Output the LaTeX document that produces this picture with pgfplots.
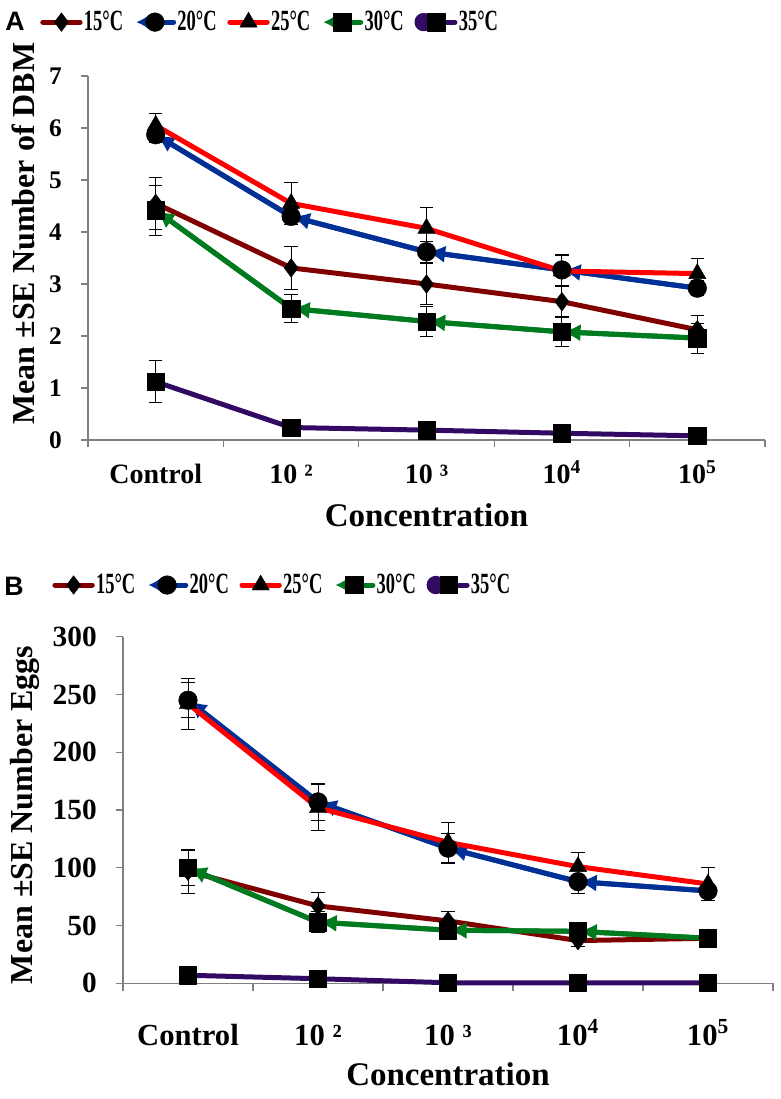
\documentclass[border=0pt]{standalone}
\usepackage{fontspec}
\setmainfont{Liberation Serif}
\newfontfamily\sansb{Liberation Sans}
\newfontfamily\legfont[FakeStretch=0.63]{Liberation Serif}
\newcommand\legtxt[1]{{\legfont\bfseries\fontsize{22}{22}\selectfont #1}}
\usepackage{pgfplots}
\pgfplotsset{compat=1.18}
\usetikzlibrary{arrows.meta}
\definecolor{c15}{RGB}{128,0,0}
\definecolor{c20}{RGB}{0,48,150}
\definecolor{c25}{RGB}{255,0,0}
\definecolor{c30}{RGB}{0,122,30}
\definecolor{c35}{RGB}{50,10,100}
\definecolor{axgray}{RGB}{128,128,128}
\pgfplotsset{
  base/.style={line width=3.75pt, line join=round,
    mark options={fill=black, draw=black, line width=0.3pt, solid},
    error bars/y dir=both, error bars/y explicit,
    error bars/error bar style={black, line width=0.7pt},
    error bars/error mark options={rotate=90, black, line width=0.7pt, mark size=5pt}},
  s15/.style={base, c15, mark=diamond*, mark size=7pt},
  s20/.style={base, c20, mark=*, mark size=7pt},
  s25/.style={base, c25, mark=triangle*, mark size=7.5pt},
  s30/.style={base, c30, mark=square*, mark size=6.5pt},
  s35/.style={base, c35, mark=square*, mark size=6.5pt},
  seg/.style={forget plot, line width=3.75pt, {Latex[length=14pt,width=13pt]}-},
  plainleg/.style={legend image code/.code={
      \draw[##1, mark=none, line cap=round] (0pt,0pt) -- (28pt,0pt);
      \draw[##1] plot coordinates {(14pt,0pt)};}},
  arrowleg/.style={legend image code/.code={
      \draw[##1, mark=none, {Latex[length=10pt,width=12pt]}-, line cap=round] (0pt,0pt) -- (28pt,0pt);
      \draw[##1] plot coordinates {(14pt,0pt)};}},
  ovalleg/.style={legend image code/.code={
      \draw[##1, mark=none, line cap=round] (3pt,0pt) -- (28pt,0pt);
      \fill[##1] (4.5pt,0pt) circle (5pt);
      \draw[##1] plot coordinates {(14pt,0pt)};}},
  common/.style={
    scale only axis, clip=false,
    xmin=-0.5, xmax=4.5, ymin=0,
    axis x line*=bottom, axis y line*=left,
    axis line style={-, axgray, line width=1pt},
    tick align=outside, major tick length=5.5pt, minor tick length=5.5pt,
    major tick style={axgray, line width=1pt}, minor tick style={axgray, line width=1pt},
    xtick={0,1,2,3,4},
    xticklabels={Control, 10 ², 10 ³, 10\textsuperscript{4}, 10\textsuperscript{5}},
    major x tick style={draw=none},
    minor xtick={-0.5,0.5,1.5,2.5,3.5,4.5},
    /pgf/number format/assume math mode=true,
    legend columns=5,
    legend style={draw=none, fill=none, anchor=west, inner sep=0pt,
      nodes={inner sep=1pt},
      /tikz/every even column/.append style={column sep=7pt}},
  },
}
\begin{document}
\begin{tikzpicture}
\path[use as bounding box] (0,0) rectangle (585.75pt,-824.25pt);
\node[font=\sansb\bfseries\fontsize{20}{20}\selectfont] at (11.25pt,-15.75pt) {A};
\node[font=\sansb\bfseries\fontsize{20}{20}\selectfont] at (10.5pt,-439.5pt) {B};
% Panel A
\begin{axis}[common,
  at={(66pt,-330pt)}, anchor=south west,
  width=507.75pt, height=273pt,
  ymax=7, ytick={0,1,...,7},
  yticklabel style={font=\bfseries\fontsize{19}{19}\selectfont, anchor=east, inner sep=0pt, xshift=-14pt},
  xticklabel style={font=\bfseries\fontsize{21}{21}\selectfont, anchor=base, yshift=-27pt},
  xlabel={Concentration}, ylabel={Mean ±SE Number of DBM},
  every axis x label/.style={at={(axis description cs:0.5,-0.206)}, anchor=center, font=\bfseries\fontsize{24.75}{24.75}\selectfont},
  every axis y label/.style={at={(axis description cs:-0.096,0.567)}, anchor=center, rotate=90, font=\bfseries\fontsize{24}{24}\selectfont},
  legend style={at={(axis description cs:-0.0709,1.148)}},
]
\addplot[s15, plainleg] coordinates {
 (0,4.55) +- (0,0.5) (1,3.31) +- (0,0.41) (2,3.0) +- (0,0.4) (3,2.66) +- (0,0.3) (4,2.12) +- (0,0.28)};
\addlegendentry{\legtxt{15°C}}
\addplot[seg, c20] coordinates {(0,5.87) (1,4.30)};
\addplot[seg, c20] coordinates {(1,4.30) (2,3.62)};
\addplot[seg, c20] coordinates {(2,3.62) (3,3.27)};
\addplot[seg, c20] coordinates {(3,3.27) (4,2.92)};
\addplot[s20, arrowleg] coordinates {
 (0,5.87) +- (0,0.15) (1,4.30) +- (0,0.15) (2,3.62) +- (0,0.2) (3,3.27) +- (0,0.3) (4,2.92) +- (0,0.15)};
\addlegendentry{\legtxt{20°C}}
\addplot[s25, plainleg] coordinates {
 (0,6.05) +- (0,0.23) (1,4.55) +- (0,0.4) (2,4.07) +- (0,0.4) (3,3.25) +- (0,0.3) (4,3.2) +- (0,0.3)};
\addlegendentry{\legtxt{25°C}}
\addplot[seg, c30] coordinates {(0,4.42) (1,2.53)};
\addplot[seg, c30] coordinates {(1,2.53) (2,2.28)};
\addplot[seg, c30] coordinates {(2,2.28) (3,2.08)};
\addplot[seg, c30] coordinates {(3,2.08) (4,1.96)};
\addplot[s30, arrowleg] coordinates {
 (0,4.42) +- (0,0.48) (1,2.53) +- (0,0.27) (2,2.28) +- (0,0.28) (3,2.08) +- (0,0.29) (4,1.96) +- (0,0.29)};
\addlegendentry{\legtxt{30°C}}
\addplot[s35, ovalleg] coordinates {
 (0,1.12) +- (0,0.4) (1,0.24) +- (0,0.05) (2,0.19) +- (0,0.05) (3,0.13) +- (0,0.05) (4,0.08) +- (0,0.05)};
\addlegendentry{\legtxt{35°C}}
\end{axis}
% Panel B
\begin{axis}[common,
  at={(92.25pt,-737.5pt)}, anchor=south west,
  width=487.5pt, height=260pt,
  ymax=300, ytick={0,50,...,300},
  yticklabel style={font=\bfseries\fontsize{22}{22}\selectfont, anchor=east, inner sep=0pt, xshift=-14pt},
  xticklabel style={font=\bfseries\fontsize{23}{23}\selectfont, anchor=base, yshift=-41pt},
  xlabel={Concentration}, ylabel={Mean ±SE Number Eggs},
  every axis x label/.style={at={(axis description cs:0.5,-0.262)}, anchor=center, font=\bfseries\fontsize{24.75}{24.75}\selectfont},
  every axis y label/.style={at={(axis description cs:-0.151,0.486)}, anchor=center, rotate=90, font=\bfseries\fontsize{24}{24}\selectfont},
  legend style={at={(axis description cs:-0.109,1.149)}},
]
\addplot[s15, plainleg] coordinates {
 (0,97) +- (0,19) (1,67) +- (0,12) (2,54) +- (0,8) (3,37) +- (0,5) (4,39) +- (0,4)};
\addlegendentry{\legtxt{15°C}}
\addplot[seg, c20] coordinates {(0,245) (1,157)};
\addplot[seg, c20] coordinates {(1,157) (2,117)};
\addplot[seg, c20] coordinates {(2,117) (3,88)};
\addplot[seg, c20] coordinates {(3,88) (4,80)};
\addplot[s20, arrowleg] coordinates {
 (0,245) +- (0,15) (1,157) +- (0,16) (2,117) +- (0,13) (3,88) +- (0,10) (4,80) +- (0,5)};
\addlegendentry{\legtxt{20°C}}
\addplot[s25, plainleg] coordinates {
 (0,242) +- (0,22) (1,152) +- (0,20) (2,122) +- (0,17) (3,101) +- (0,12) (4,86) +- (0,14)};
\addlegendentry{\legtxt{25°C}}
\addplot[seg, c30] coordinates {(0,100) (1,53)};
\addplot[seg, c30] coordinates {(1,53) (2,46)};
\addplot[seg, c30] coordinates {(2,46) (3,45)};
\addplot[seg, c30] coordinates {(3,45) (4,39)};
\addplot[s30, arrowleg] coordinates {
 (0,100) +- (0,15) (1,53) +- (0,9) (2,46) +- (0,5) (3,45) +- (0,5) (4,39) +- (0,3)};
\addlegendentry{\legtxt{30°C}}
\addplot[s35, ovalleg] coordinates {
 (0,7) +- (0,2) (1,4) +- (0,2) (2,0.5) +- (0,0.5) (3,0.5) +- (0,0.5) (4,0.5) +- (0,0.5)};
\addlegendentry{\legtxt{35°C}}
\end{axis}
\end{tikzpicture}
\end{document}
